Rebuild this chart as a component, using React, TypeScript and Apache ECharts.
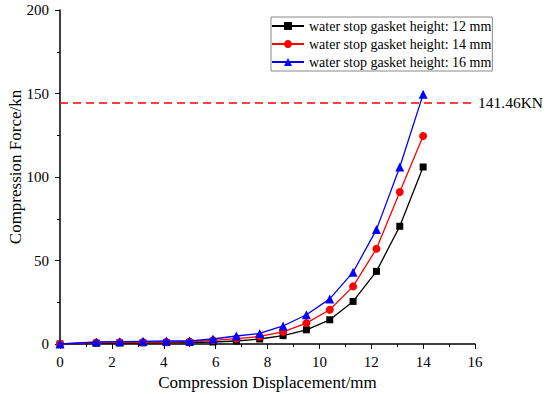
import React, { useEffect, useRef } from "react";
import * as echarts from "echarts";

const xValues = [0, 1.4, 2.3, 3.2, 4.1, 5.0, 5.9, 6.8, 7.7, 8.6, 9.5, 10.4, 11.3, 12.2, 13.1, 14.0];
const h12 = [0, 0.5, 0.6, 0.7, 0.8, 0.9, 1.2, 1.8, 3, 5, 8.5, 14.5, 25.5, 43.5, 70.5, 106];
const h14 = [0, 0.8, 1, 1.1, 1.2, 1.4, 2.2, 3.2, 4.5, 7.3, 12.5, 20.5, 34.5, 57, 91, 124.5];
const h16 = [0, 1.2, 1.4, 1.6, 1.8, 1.8, 3, 4.8, 6.3, 10.8, 17.5, 27, 43, 68.5, 106, 149.5];
const seriesNames = [
  "water stop gasket height: 12 mm",
  "water stop gasket height: 14 mm",
  "water stop gasket height: 16 mm",
];
const yAxisTitle = "Compression Force/kn";
const xAxisTitle = "Compression Displacement/mm";
const limitLineValue = 144.5;
const limitLabel = "141.46KN";
const limitText = "Limit of Closure Compression Force";

const FONT = "'Liberation Serif', 'Times New Roman', serif";

export default function App() {
  const ref = useRef<HTMLDivElement>(null);
  useEffect(() => {
    const chart = echarts.init(ref.current!, null, { renderer: "svg" });
    const pair = (ys: number[]) => xValues.map((x, i) => [x, ys[i]]);
    chart.setOption({
      animation: false,
      backgroundColor: "#fff",
      textStyle: { fontFamily: FONT, color: "#000" },
      grid: { left: 60, right: 75, top: 10, bottom: 50, outerBoundsMode: "none", containLabel: false },
      graphic: [
        {
          type: "text",
          x: 15,
          y: 167,
          rotation: Math.PI / 2,
          style: {
            text: yAxisTitle,
            fontFamily: FONT,
            fontSize: 17,
            fill: "#000",
            align: "center",
            verticalAlign: "middle",
          },
        },
      ],
      legend: {
        orient: "vertical",
        left: 271,
        top: 17,
        padding: [2, 1, 2, 0],
        itemGap: 4,
        itemWidth: 32,
        itemHeight: 10,
        borderColor: "#888",
        borderWidth: 1,
        borderRadius: 0,
        textStyle: { fontFamily: FONT, fontSize: 14, color: "#000", lineHeight: 14 },
        data: seriesNames,
      },
      xAxis: {
        type: "value",
        min: 0,
        max: 16,
        interval: 2,
        name: xAxisTitle,
        nameLocation: "middle",
        nameGap: 30,
        nameTextStyle: { fontFamily: FONT, fontSize: 17, color: "#000" },
        axisLine: { lineStyle: { color: "#000", width: 1.5 } },
        axisTick: { show: true, inside: false, length: 5, lineStyle: { color: "#000" } },
        minorTick: { show: true, splitNumber: 2, length: 3, lineStyle: { color: "#000" } },
        axisLabel: { fontFamily: FONT, fontSize: 15, color: "#000", margin: 10 },
        splitLine: { show: false },
      },
      yAxis: {
        type: "value",
        min: 0,
        max: 200,
        interval: 50,
        axisLine: { show: true, lineStyle: { color: "#000", width: 1.5 } },
        axisTick: { show: true, inside: false, length: 5, lineStyle: { color: "#000" } },
        minorTick: { show: true, splitNumber: 2, length: 3, lineStyle: { color: "#000" } },
        axisLabel: { fontFamily: FONT, fontSize: 15, color: "#000", margin: 11 },
        splitLine: { show: false },
      },
      series: [
        {
          name: seriesNames[0],
          type: "line",
          data: pair(h12),
          symbol: "rect",
          symbolSize: 7,
          color: "#000",
          lineStyle: { width: 1.3 },
          z: 3,
        },
        {
          name: seriesNames[1],
          type: "line",
          data: pair(h14),
          symbol: "circle",
          symbolSize: 8,
          color: "#ff0000",
          lineStyle: { width: 1.3 },
          z: 4,
        },
        {
          name: seriesNames[2],
          type: "line",
          data: pair(h16),
          symbol: "triangle",
          symbolSize: 9,
          color: "#0000ff",
          lineStyle: { width: 1.3 },
          z: 5,
          markLine: {
            silent: true,
            symbol: "none",
            animation: false,
            data: [
              {
                yAxis: limitLineValue,
                lineStyle: { color: "#ff0000", type: [8, 5], width: 1.5 },
                label: {
                  show: true,
                  position: "end",
                  formatter: limitLabel,
                  fontFamily: FONT,
                  fontSize: 15.5,
                  color: "#000",
                  distance: 3,
                },
              },
              {
                yAxis: limitLineValue,
                lineStyle: { opacity: 0 },
                label: {
                  show: true,
                  position: "insideStartBottom",
                  formatter: limitText,
                  fontFamily: FONT,
                  fontSize: 10.5,
                  color: "#000",
                  distance: 5,
                },
              },
            ],
          },
        },
      ],
    });
    return () => chart.dispose();
  }, []);
  return <div ref={ref} style={{ width: 550, height: 394, position: "absolute", left: 0, top: 0 }} />;
}
